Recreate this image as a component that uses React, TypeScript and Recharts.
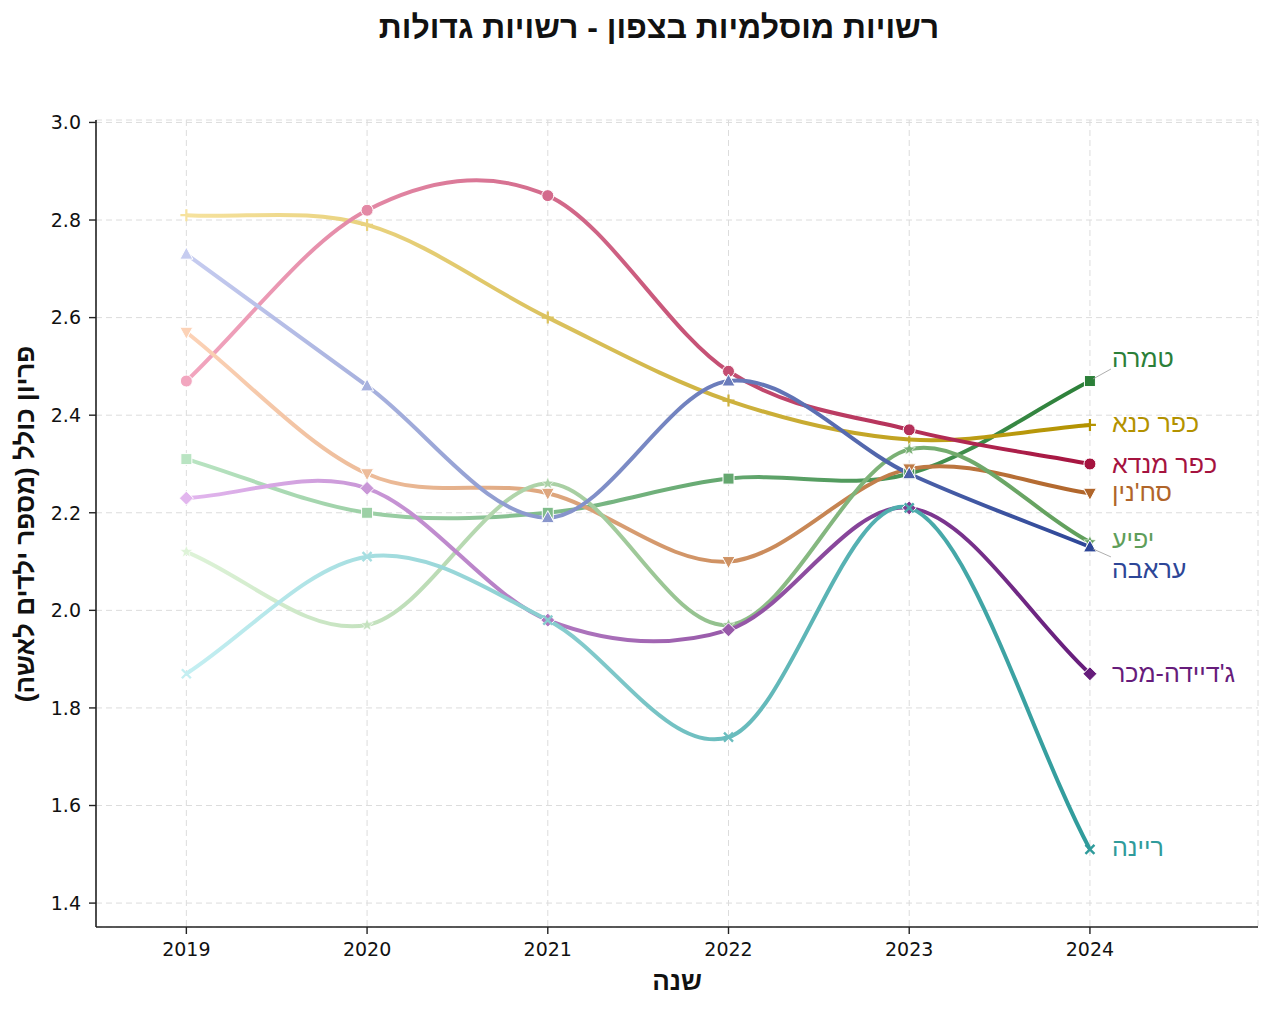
import React from "react";
import {
  LineChart,
  Line,
  XAxis,
  YAxis,
  CartesianGrid,
} from "recharts";

const YEARS = [2019, 2020, 2021, 2022, 2023, 2024];

const NAMES = [
  "טמרה",
  "כפר כנא",
  "כפר מנדא",
  "סח'נין",
  "יפיע",
  "עראבה",
  "ג'דיידה-מכר",
  "ריינה",
];

const TAMRA = [2.31, 2.2, 2.2, 2.27, 2.28, 2.47];
const KAFR_KANA = [2.81, 2.79, 2.6, 2.43, 2.35, 2.38];
const KAFR_MANDA = [2.47, 2.82, 2.85, 2.49, 2.37, 2.3];
const SAKHNIN = [2.57, 2.28, 2.24, 2.1, 2.29, 2.24];
const YAFIA = [2.12, 1.97, 2.26, 1.97, 2.33, 2.14];
const ARRABA = [2.73, 2.46, 2.19, 2.47, 2.28, 2.13];
const JUDEIDE_MAKR = [2.23, 2.25, 1.98, 1.96, 2.21, 1.87];
const REINEH = [1.87, 2.11, 1.98, 1.74, 2.21, 1.51];

const SERIES = [TAMRA, KAFR_KANA, KAFR_MANDA, SAKHNIN, YAFIA, ARRABA, JUDEIDE_MAKR, REINEH];

const Y_TICKS = [1.4, 1.6, 1.8, 2.0, 2.2, 2.4, 2.6, 2.8, 3.0];

// light (2019) -> dark (2024)
const START_COLORS = ["#b9e4c2", "#f6e29e", "#f2a6bf", "#fcd2b6", "#def3d8", "#c6ccf0", "#e2b6ee", "#c4eff2"];
const END_COLORS = ["#2b7f38", "#b39200", "#a5133f", "#b0652a", "#5f9e5a", "#2d4697", "#661c7b", "#2f9b9b"];
const MARKERS = ["square", "plus", "circle", "tridown", "star", "triup", "diamond", "x"];

// label offset (px) from last point; connector drawn when leader true
const LABEL_DY = [-23, -2, 0, -1, -3, 22, -1, -2];
const LABEL_LEADER = [true, false, false, false, false, true, false, false];

const NUM_FONT = "'DejaVu Sans', sans-serif";
const HEB_FONT = "'Liberation Sans', Arial, sans-serif";

const rows = YEARS.map((year, i) => {
  const r: Record<string, number> = { year };
  SERIES.forEach((s, k) => (r[`s${k}`] = s[i]));
  return r;
});

function hex(c: string) {
  return [1, 3, 5].map((p) => parseInt(c.slice(p, p + 2), 16));
}
function mix(a: string, b: string, t: number) {
  const x = hex(a);
  const y = hex(b);
  return `rgb(${x.map((v, i) => Math.round(v + (y[i] - v) * t)).join(",")})`;
}

// catmull-rom style smoothing (uniform spacing in x)
function catmull(context: any) {
  let xs: number[] = [];
  let ys: number[] = [];
  return {
    areaStart() {},
    areaEnd() {},
    lineStart() {
      xs = [];
      ys = [];
    },
    point(x: number, y: number) {
      xs.push(+x);
      ys.push(+y);
    },
    lineEnd() {
      const n = xs.length;
      if (!n) return;
      context.moveTo(xs[0], ys[0]);
      if (n === 1) return;
      const m = (i: number) =>
        i === 0 ? ys[1] - ys[0] : i === n - 1 ? ys[n - 1] - ys[n - 2] : (ys[i + 1] - ys[i - 1]) / 2;
      for (let i = 0; i < n - 1; i++) {
        const dx = xs[i + 1] - xs[i];
        context.bezierCurveTo(
          xs[i] + dx / 3,
          ys[i] + m(i) / 3,
          xs[i + 1] - dx / 3,
          ys[i + 1] - m(i + 1) / 3,
          xs[i + 1],
          ys[i + 1]
        );
      }
    },
  };
}

function Marker({ kind, cx, cy, fill }: { kind: string; cx: number; cy: number; fill: string }) {
  const w = { stroke: "#fff", strokeWidth: 1 };
  switch (kind) {
    case "circle":
      return <circle cx={cx} cy={cy} r={6} fill={fill} {...w} />;
    case "square":
      return <rect x={cx - 5.5} y={cy - 5.5} width={11} height={11} fill={fill} {...w} />;
    case "triup":
      return <polygon points={`${cx},${cy - 7} ${cx - 6.5},${cy + 5} ${cx + 6.5},${cy + 5}`} fill={fill} {...w} />;
    case "tridown":
      return <polygon points={`${cx},${cy + 7} ${cx - 6.5},${cy - 5} ${cx + 6.5},${cy - 5}`} fill={fill} {...w} />;
    case "diamond":
      return <polygon points={`${cx},${cy - 7} ${cx + 7},${cy} ${cx},${cy + 7} ${cx - 7},${cy}`} fill={fill} {...w} />;
    case "plus":
      return (
        <path d={`M${cx - 6},${cy}H${cx + 6}M${cx},${cy - 6}V${cy + 6}`} stroke={fill} strokeWidth={2.2} />
      );
    case "x":
      return (
        <path
          d={`M${cx - 4.5},${cy - 4.5}L${cx + 4.5},${cy + 4.5}M${cx - 4.5},${cy + 4.5}L${cx + 4.5},${cy - 4.5}`}
          stroke={fill}
          strokeWidth={2.4}
        />
      );
    case "star": {
      const pts: string[] = [];
      for (let i = 0; i < 10; i++) {
        const r = i % 2 === 0 ? 6.5 : 2.8;
        const a = -Math.PI / 2 + (i * Math.PI) / 5;
        pts.push(`${cx + r * Math.cos(a)},${cy + r * Math.sin(a)}`);
      }
      return <polygon points={pts.join(" ")} fill={fill} stroke="#fff" strokeWidth={0.6} />;
    }
    default:
      return null;
  }
}

function makeDot(k: number) {
  return (props: any) => {
    const { cx, cy, index } = props;
    const last = index === YEARS.length - 1;
    const fill = mix(START_COLORS[k], END_COLORS[k], index / (YEARS.length - 1));
    const ly = cy + LABEL_DY[k];
    const lx = cx + 22;
    return (
      <g key={`d${k}-${index}`}>
        <Marker kind={MARKERS[k]} cx={cx} cy={cy} fill={fill} />
        {last && LABEL_LEADER[k] && (
          <line
            x1={cx + 3}
            y1={cy + (LABEL_DY[k] < 0 ? -2 : 2)}
            x2={lx - 1}
            y2={ly + (LABEL_DY[k] < 0 ? 11 : -12)}
            stroke="#999"
            strokeWidth={0.8}
          />
        )}
        {last && (
          <text x={lx} y={ly} fill={END_COLORS[k]} fontSize={25} fontFamily={HEB_FONT} dominantBaseline="central" textAnchor="start">
            {NAMES[k]}
          </text>
        )}
      </g>
    );
  };
}

const axisLine = { stroke: "#222", strokeWidth: 1.6 };
const tickStyle = { fill: "#111", fontSize: 19, fontFamily: NUM_FONT };

export default function App() {
  return (
    <div style={{ position: "absolute", left: 0, top: 0, width: 1273, height: 1011, background: "#fff" }}>
      <LineChart width={1273} height={1011} data={rows} margin={{ top: 120, right: 15, bottom: 54, left: 0 }}>
        <defs>
          {SERIES.map((_, k) => (
            <linearGradient key={k} id={`g${k}`} x1="0" y1="0" x2="1" y2="0">
              <stop offset="0%" stopColor={START_COLORS[k]} />
              <stop offset="100%" stopColor={END_COLORS[k]} />
            </linearGradient>
          ))}
        </defs>
        <CartesianGrid stroke="#dcdcdc" strokeDasharray="6 4" />
        <XAxis
          dataKey="year"
          type="number"
          domain={[2018.5, 2024.93]}
          ticks={YEARS}
          allowDataOverflow
          height={30}
          axisLine={axisLine}
          tickLine={{ stroke: "#222", strokeWidth: 1.4 }}
          tickSize={7}
          tickMargin={9}
          tick={tickStyle}
        />
        <XAxis
          xAxisId="top"
          orientation="top"
          type="number"
          domain={[2018.5, 2024.93]}
          height={0}
          tick={false}
          tickLine={false}
          axisLine={axisLine}
        />
        <YAxis
          type="number"
          domain={[1.351, 3.005]}
          ticks={Y_TICKS}
          allowDataOverflow
          width={96}
          axisLine={axisLine}
          tickLine={{ stroke: "#222", strokeWidth: 1.4 }}
          tickSize={7}
          tickMargin={8}
          tick={tickStyle}
          tickFormatter={(v: number) => v.toFixed(1)}
        />
        <YAxis
          yAxisId="right"
          orientation="right"
          type="number"
          domain={[1.351, 3.005]}
          width={0}
          tick={false}
          tickLine={false}
          axisLine={axisLine}
        />
        {SERIES.map((_, k) => (
          <Line
            key={k}
            type={catmull as any}
            dataKey={`s${k}`}
            stroke={`url(#g${k})`}
            strokeWidth={4}
            dot={makeDot(k)}
            activeDot={false}
            isAnimationActive={false}
          />
        ))}
      </LineChart>
      <svg width={1273} height={1011} style={{ position: "absolute", left: 0, top: 0, pointerEvents: "none" }}>
        <text x={659} y={27} textAnchor="middle" dominantBaseline="central" fontSize={32} fontWeight="bold" fontFamily={HEB_FONT} fill="#111">
          רשויות מוסלמיות בצפון - רשויות גדולות
        </text>
        <text
          x={25}
          y={524}
          textAnchor="middle"
          dominantBaseline="central"
          fontSize={26}
          fontWeight="bold"
          fontFamily={HEB_FONT}
          fill="#111"
          transform="rotate(-90 25 524)"
        >
          פריון כולל (מספר ילדים לאשה)
        </text>
        <text x={677} y={981} textAnchor="middle" dominantBaseline="central" fontSize={26} fontWeight="bold" fontFamily={HEB_FONT} fill="#111">
          שנה
        </text>
      </svg>
    </div>
  );
}
